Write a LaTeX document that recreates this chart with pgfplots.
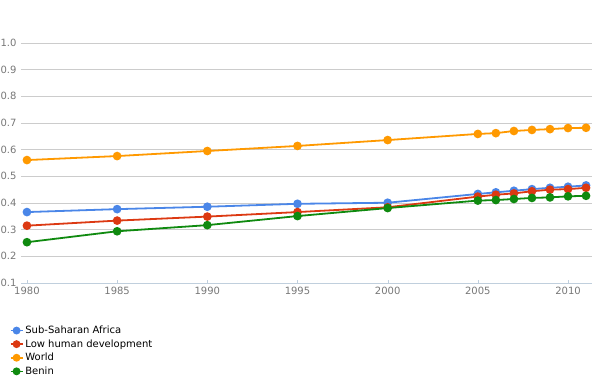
\documentclass[border=0pt]{standalone}
\usepackage{fontspec}
\setmainfont{DejaVu Sans}
\usepackage{pgfplots}
\pgfplotsset{compat=1.18}
\definecolor{cblue}{HTML}{4A86E8}
\definecolor{cred}{HTML}{DC3912}
\definecolor{corange}{HTML}{FF9900}
\definecolor{cgreen}{HTML}{0F8A0F}
\definecolor{grid}{HTML}{CCCCCC}
\definecolor{axl}{HTML}{C0CFDD}
\definecolor{lab}{HTML}{777777}
\begin{document}
\begin{tikzpicture}[x=1pt,y=1pt]
\useasboundingbox (0,0) rectangle (600,386);
\begin{axis}[
  at={(21pt,103pt)}, anchor=south west,
  scale only axis, width=571pt, height=240pt,
  xmin=1979.67, xmax=2011.33, ymin=0.1, ymax=1.0,
  clip=false,
  axis x line*=bottom,
  axis y line*=left,
  x axis line style={draw=axl, line width=0.8pt, -},
  y axis line style={draw=none},
  ytick={0.1,0.2,...,1.0},
  xtick={1980,1985,1990,1995,2000,2005,2010},
  xticklabel style={/pgf/number format/1000 sep={}, font=\fontsize{10}{12}\selectfont, text=lab, yshift=-1pt},
  yticklabel style={/pgf/number format/fixed, /pgf/number format/fixed zerofill, /pgf/number format/precision=1, font=\fontsize{10}{12}\selectfont, text=lab, xshift=-1pt},
  /pgf/number format/assume math mode=true,
  ymajorgrids, grid style={draw=grid, line width=0.8pt},
  major tick length=3pt, xtick style={draw=axl},
  ytick style={draw=none},
  legend style={at={(-0.02,-0.17)}, anchor=north west, draw=none, fill=none,
    font=\fontsize{10}{12}\selectfont, row sep=0.5pt, inner sep=0pt},
  legend cell align=left,
  legend image code/.code={\draw[#1, line width=1.6pt] (0pt,0pt) -- (12pt,0pt); \fill[#1] (6pt,0pt) circle (3pt);},
]
\addplot[color=cblue, line width=1.8pt, mark=*, mark size=3.4pt, mark options={fill=cblue, draw=cblue}] coordinates {
(1980,0.366)(1985,0.377)(1990,0.386)(1995,0.397)(2000,0.401)(2005,0.434)(2006,0.440)(2007,0.446)(2008,0.452)(2009,0.457)(2010,0.461)(2011,0.466)};
\addlegendentry{Sub-Saharan Africa}
\addplot[color=cred, line width=1.8pt, mark=*, mark size=3.4pt, mark options={fill=cred, draw=cred}] coordinates {
(1980,0.315)(1985,0.334)(1990,0.349)(1995,0.366)(2000,0.384)(2005,0.424)(2006,0.431)(2007,0.436)(2008,0.444)(2009,0.450)(2010,0.452)(2011,0.457)};
\addlegendentry{Low human development}
\addplot[color=corange, line width=1.8pt, mark=*, mark size=3.4pt, mark options={fill=corange, draw=corange}] coordinates {
(1980,0.561)(1985,0.576)(1990,0.595)(1995,0.614)(2000,0.636)(2005,0.659)(2006,0.662)(2007,0.670)(2008,0.674)(2009,0.677)(2010,0.681)(2011,0.682)};
\addlegendentry{World}
\addplot[color=cgreen, line width=1.8pt, mark=*, mark size=3.4pt, mark options={fill=cgreen, draw=cgreen}] coordinates {
(1980,0.253)(1985,0.294)(1990,0.317)(1995,0.351)(2000,0.381)(2005,0.409)(2006,0.411)(2007,0.415)(2008,0.419)(2009,0.421)(2010,0.425)(2011,0.427)};
\addlegendentry{Benin}
\end{axis}
\end{tikzpicture}
\end{document}
